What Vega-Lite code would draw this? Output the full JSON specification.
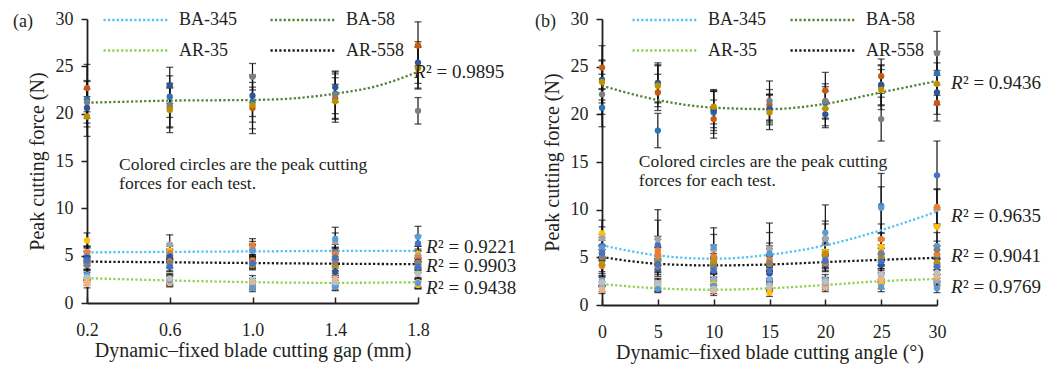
{
"$schema": "https://vega.github.io/schema/vega-lite/v6.json",
"padding": {"left": 13, "top": 10, "right": 5, "bottom": 5},
"bounds": "flush",
"spacing": 184,
"config": {
 "view": {"stroke": null},
 "font": "Liberation Serif",
 "scale": {"continuousPadding": 0},
 "axis": {"labelFont": "Liberation Serif", "titleFont": "Liberation Serif", "labelFontSize": 18, "titleFontSize": 20, "titleFontWeight": "normal", "labelColor": "#231F20", "titleColor": "#231F20", "domainColor": "#231F20", "tickColor": "#231F20", "domainWidth": 1.8, "tickWidth": 1.5, "grid": false, "labelFlush": false, "labelOverlap": false, "labelBound": false},
 "axisY": {"tickSize": 6, "labelPadding": 8, "titlePadding": 8},
 "axisX": {"tickSize": -6, "labelPadding": 24, "titlePadding": 1},
 "text": {"font": "Liberation Serif", "color": "#231F20"},
 "title": {"font": "Liberation Serif", "fontSize": 18, "fontWeight": "normal", "color": "#231F20"}
},
"datasets": {
 "dotsA": [
  {"x":0.2,"k":"BA-58/1","y":22.7,"lo":20.2,"hi":25.2},{"x":0.2,"k":"BA-58/2","y":21.5,"lo":19.5,"hi":23.5},{"x":0.2,"k":"BA-58/3","y":21.2,"lo":19.0,"hi":23.4},{"x":0.2,"k":"BA-58/4","y":20.6,"lo":18.6,"hi":22.6},{"x":0.2,"k":"BA-58/5","y":19.7,"lo":17.6,"hi":21.8},
  {"x":0.6,"k":"BA-58/1","y":20.6,"lo":18.5,"hi":22.7},{"x":0.6,"k":"BA-58/2","y":21.8,"lo":19.6,"hi":24.0},{"x":0.6,"k":"BA-58/3","y":20.9,"lo":18.6,"hi":23.2},{"x":0.6,"k":"BA-58/4","y":23.0,"lo":21.1,"hi":24.9},{"x":0.6,"k":"BA-58/5","y":20.4,"lo":18.0,"hi":22.8},
  {"x":1.0,"k":"BA-58/1","y":20.6,"lo":18.4,"hi":22.8},{"x":1.0,"k":"BA-58/2","y":21.2,"lo":19.1,"hi":23.3},{"x":1.0,"k":"BA-58/3","y":23.9,"lo":22.5,"hi":25.3},{"x":1.0,"k":"BA-58/4","y":21.9,"lo":19.7,"hi":24.1},{"x":1.0,"k":"BA-58/5","y":20.9,"lo":17.9,"hi":23.9},
  {"x":1.4,"k":"BA-58/1","y":21.6,"lo":19.4,"hi":23.8},{"x":1.4,"k":"BA-58/2","y":22.1,"lo":20.0,"hi":24.2},{"x":1.4,"k":"BA-58/3","y":22.0,"lo":19.5,"hi":24.5},{"x":1.4,"k":"BA-58/4","y":22.8,"lo":21.2,"hi":24.4},{"x":1.4,"k":"BA-58/5","y":21.3,"lo":19.1,"hi":23.1},
  {"x":1.8,"k":"BA-58/1","y":27.2,"lo":25.0,"hi":29.7},{"x":1.8,"k":"BA-58/2","y":24.9,"lo":22.7,"hi":27.1},{"x":1.8,"k":"BA-58/3","y":20.3,"lo":18.9,"hi":21.7},{"x":1.8,"k":"BA-58/4","y":25.4,"lo":23.2,"hi":27.6},{"x":1.8,"k":"BA-58/5","y":24.8,"lo":22.6,"hi":27.0},
  {"x":0.2,"k":"BA-345/1","y":6.6,"lo":5.9,"hi":7.4},{"x":0.2,"k":"BA-345/2","y":5.1,"lo":4.4,"hi":5.8},{"x":0.2,"k":"BA-345/3","y":5.4,"lo":4.8,"hi":6.0},{"x":0.2,"k":"BA-345/4","y":5.3,"lo":4.6,"hi":6.0},{"x":0.2,"k":"BA-345/5","y":4.9,"lo":4.3,"hi":5.5},
  {"x":0.2,"k":"AR-558/1","y":4.8,"lo":4.2,"hi":5.4},{"x":0.2,"k":"AR-558/2","y":4.4,"lo":3.9,"hi":4.9},{"x":0.2,"k":"AR-558/3","y":4.2,"lo":3.6,"hi":4.8},{"x":0.2,"k":"AR-558/4","y":4.0,"lo":3.5,"hi":4.5},{"x":0.2,"k":"AR-558/5","y":4.5,"lo":4.0,"hi":5.0},
  {"x":0.2,"k":"AR-35/1","y":2.9,"lo":2.4,"hi":3.4},{"x":0.2,"k":"AR-35/2","y":2.3,"lo":1.9,"hi":2.7},{"x":0.2,"k":"AR-35/3","y":2.0,"lo":1.6,"hi":2.4},{"x":0.2,"k":"AR-35/4","y":3.0,"lo":2.5,"hi":3.5},{"x":0.2,"k":"AR-35/5","y":2.7,"lo":2.2,"hi":3.2},
  {"x":0.6,"k":"BA-345/1","y":5.5,"lo":4.8,"hi":6.2},{"x":0.6,"k":"BA-345/2","y":5.1,"lo":4.5,"hi":5.7},{"x":0.6,"k":"BA-345/3","y":6.2,"lo":5.3,"hi":7.2},{"x":0.6,"k":"BA-345/4","y":5.3,"lo":4.6,"hi":6.0},{"x":0.6,"k":"BA-345/5","y":5.0,"lo":4.4,"hi":5.6},
  {"x":0.6,"k":"AR-558/1","y":4.9,"lo":4.3,"hi":5.5},{"x":0.6,"k":"AR-558/2","y":4.4,"lo":3.8,"hi":5.0},{"x":0.6,"k":"AR-558/3","y":4.0,"lo":3.4,"hi":4.6},{"x":0.6,"k":"AR-558/4","y":4.2,"lo":3.7,"hi":4.7},{"x":0.6,"k":"AR-558/5","y":3.8,"lo":3.3,"hi":4.3},
  {"x":0.6,"k":"AR-35/1","y":2.5,"lo":2.0,"hi":3.0},{"x":0.6,"k":"AR-35/2","y":2.3,"lo":1.8,"hi":2.8},{"x":0.6,"k":"AR-35/3","y":2.1,"lo":1.7,"hi":2.5},{"x":0.6,"k":"AR-35/4","y":2.4,"lo":1.9,"hi":2.9},{"x":0.6,"k":"AR-35/5","y":2.6,"lo":2.1,"hi":3.1},
  {"x":1.0,"k":"BA-345/1","y":5.5,"lo":4.8,"hi":6.2},{"x":1.0,"k":"BA-345/2","y":5.6,"lo":5.0,"hi":6.2},{"x":1.0,"k":"BA-345/3","y":5.8,"lo":5.1,"hi":6.5},{"x":1.0,"k":"BA-345/4","y":6.1,"lo":5.4,"hi":6.8},{"x":1.0,"k":"BA-345/5","y":5.5,"lo":4.9,"hi":6.1},
  {"x":1.0,"k":"AR-558/1","y":4.3,"lo":3.7,"hi":4.9},{"x":1.0,"k":"AR-558/2","y":4.5,"lo":3.9,"hi":5.1},{"x":1.0,"k":"AR-558/3","y":4.0,"lo":3.5,"hi":4.5},{"x":1.0,"k":"AR-558/4","y":4.1,"lo":3.6,"hi":4.6},{"x":1.0,"k":"AR-558/5","y":4.2,"lo":3.7,"hi":4.7},
  {"x":1.0,"k":"AR-35/1","y":1.8,"lo":1.4,"hi":2.2},{"x":1.0,"k":"AR-35/2","y":2.2,"lo":1.8,"hi":2.6},{"x":1.0,"k":"AR-35/3","y":2.0,"lo":1.6,"hi":2.4},{"x":1.0,"k":"AR-35/4","y":1.6,"lo":1.2,"hi":2.0},{"x":1.0,"k":"AR-35/5","y":2.4,"lo":1.9,"hi":2.9},
  {"x":1.4,"k":"BA-345/1","y":5.0,"lo":4.2,"hi":5.8},{"x":1.4,"k":"BA-345/2","y":5.4,"lo":4.6,"hi":6.2},{"x":1.4,"k":"BA-345/3","y":6.5,"lo":5.6,"hi":7.4},{"x":1.4,"k":"BA-345/4","y":5.2,"lo":4.5,"hi":5.9},{"x":1.4,"k":"BA-345/5","y":6.8,"lo":5.8,"hi":8.0},
  {"x":1.4,"k":"AR-558/1","y":3.3,"lo":2.7,"hi":3.9},{"x":1.4,"k":"AR-558/2","y":4.6,"lo":4.0,"hi":5.2},{"x":1.4,"k":"AR-558/3","y":4.0,"lo":3.4,"hi":4.6},{"x":1.4,"k":"AR-558/4","y":4.3,"lo":3.7,"hi":4.9},{"x":1.4,"k":"AR-558/5","y":4.8,"lo":4.2,"hi":5.4},
  {"x":1.4,"k":"AR-35/1","y":1.9,"lo":1.4,"hi":2.4},{"x":1.4,"k":"AR-35/2","y":2.4,"lo":1.9,"hi":2.9},{"x":1.4,"k":"AR-35/3","y":2.6,"lo":2.1,"hi":3.1},{"x":1.4,"k":"AR-35/4","y":1.7,"lo":1.3,"hi":2.1},{"x":1.4,"k":"AR-35/5","y":2.2,"lo":1.7,"hi":2.7},
  {"x":1.8,"k":"BA-345/1","y":5.2,"lo":4.4,"hi":6.0},{"x":1.8,"k":"BA-345/2","y":6.3,"lo":5.5,"hi":7.1},{"x":1.8,"k":"BA-345/3","y":5.0,"lo":4.3,"hi":5.7},{"x":1.8,"k":"BA-345/4","y":4.8,"lo":4.1,"hi":5.5},{"x":1.8,"k":"BA-345/5","y":7.0,"lo":6.0,"hi":8.1},
  {"x":1.8,"k":"AR-558/1","y":4.4,"lo":3.8,"hi":5.0},{"x":1.8,"k":"AR-558/2","y":4.2,"lo":3.6,"hi":4.8},{"x":1.8,"k":"AR-558/3","y":4.0,"lo":3.4,"hi":4.6},{"x":1.8,"k":"AR-558/4","y":4.1,"lo":3.5,"hi":4.7},{"x":1.8,"k":"AR-558/5","y":3.8,"lo":3.2,"hi":4.4},
  {"x":1.8,"k":"AR-35/1","y":2.0,"lo":1.5,"hi":2.5},{"x":1.8,"k":"AR-35/2","y":1.9,"lo":1.5,"hi":2.3},{"x":1.8,"k":"AR-35/3","y":2.2,"lo":1.7,"hi":2.7},{"x":1.8,"k":"AR-35/4","y":2.1,"lo":1.6,"hi":2.6},{"x":1.8,"k":"AR-35/5","y":3.1,"lo":2.5,"hi":3.7}
 ],
 "dotsB": [
  {"x":0,"k":"BA-58/1","y":24.9,"lo":22.6,"hi":27.2},{"x":0,"k":"BA-58/2","y":20.7,"lo":18.7,"hi":22.7},{"x":0,"k":"BA-58/3","y":22.1,"lo":20.0,"hi":24.2},{"x":0,"k":"BA-58/4","y":23.6,"lo":21.5,"hi":25.7},{"x":0,"k":"BA-58/5","y":23.4,"lo":21.2,"hi":25.6},
  {"x":5,"k":"BA-58/1","y":22.3,"lo":20.4,"hi":24.2},{"x":5,"k":"BA-58/2","y":18.3,"lo":16.5,"hi":20.1},{"x":5,"k":"BA-58/3","y":23.2,"lo":21.3,"hi":25.1},{"x":5,"k":"BA-58/4","y":23.3,"lo":21.2,"hi":25.4},{"x":5,"k":"BA-58/5","y":23.0,"lo":20.8,"hi":25.2},
  {"x":10,"k":"BA-58/1","y":19.5,"lo":17.5,"hi":21.5},{"x":10,"k":"BA-58/2","y":20.2,"lo":18.0,"hi":22.4},{"x":10,"k":"BA-58/3","y":20.5,"lo":18.6,"hi":22.4},{"x":10,"k":"BA-58/4","y":20.4,"lo":18.3,"hi":22.5},{"x":10,"k":"BA-58/5","y":20.8,"lo":19.0,"hi":22.6},
  {"x":15,"k":"BA-58/1","y":21.0,"lo":19.4,"hi":22.6},{"x":15,"k":"BA-58/2","y":20.6,"lo":19.1,"hi":22.1},{"x":15,"k":"BA-58/3","y":21.4,"lo":19.3,"hi":23.5},{"x":15,"k":"BA-58/4","y":20.5,"lo":18.9,"hi":22.1},{"x":15,"k":"BA-58/5","y":20.2,"lo":18.4,"hi":22.0},
  {"x":20,"k":"BA-58/1","y":22.5,"lo":20.6,"hi":24.4},{"x":20,"k":"BA-58/2","y":21.2,"lo":19.5,"hi":22.9},{"x":20,"k":"BA-58/3","y":21.4,"lo":19.6,"hi":23.2},{"x":20,"k":"BA-58/4","y":20.0,"lo":18.6,"hi":21.4},{"x":20,"k":"BA-58/5","y":20.6,"lo":18.8,"hi":22.4},
  {"x":25,"k":"BA-58/1","y":24.0,"lo":22.2,"hi":25.8},{"x":25,"k":"BA-58/2","y":23.1,"lo":21.0,"hi":25.2},{"x":25,"k":"BA-58/3","y":19.5,"lo":17.2,"hi":21.8},{"x":25,"k":"BA-58/4","y":23.0,"lo":20.9,"hi":25.1},{"x":25,"k":"BA-58/5","y":22.6,"lo":20.5,"hi":24.7},
  {"x":30,"k":"BA-58/1","y":21.2,"lo":19.3,"hi":23.1},{"x":30,"k":"BA-58/2","y":24.3,"lo":22.0,"hi":26.6},{"x":30,"k":"BA-58/3","y":26.4,"lo":24.1,"hi":28.7},{"x":30,"k":"BA-58/4","y":22.3,"lo":20.0,"hi":24.6},{"x":30,"k":"BA-58/5","y":23.2,"lo":21.0,"hi":25.4},
  {"x":0,"k":"BA-345/1","y":7.5,"lo":6.2,"hi":8.9},{"x":0,"k":"BA-345/2","y":6.2,"lo":5.0,"hi":7.4},{"x":0,"k":"BA-345/3","y":7.0,"lo":5.8,"hi":8.2},{"x":0,"k":"BA-345/4","y":5.8,"lo":4.8,"hi":6.8},{"x":0,"k":"BA-345/5","y":6.0,"lo":4.9,"hi":7.1},
  {"x":0,"k":"AR-558/1","y":5.4,"lo":4.6,"hi":6.2},{"x":0,"k":"AR-558/2","y":4.1,"lo":3.3,"hi":4.9},{"x":0,"k":"AR-558/3","y":4.3,"lo":3.5,"hi":5.1},{"x":0,"k":"AR-558/4","y":5.0,"lo":4.2,"hi":5.8},{"x":0,"k":"AR-558/5","y":5.5,"lo":4.7,"hi":6.3},
  {"x":0,"k":"AR-35/1","y":1.9,"lo":1.4,"hi":2.4},{"x":0,"k":"AR-35/2","y":2.5,"lo":2.0,"hi":3.0},{"x":0,"k":"AR-35/3","y":1.6,"lo":1.2,"hi":2.0},{"x":0,"k":"AR-35/4","y":2.6,"lo":2.1,"hi":3.1},{"x":0,"k":"AR-35/5","y":2.4,"lo":1.9,"hi":2.9},
  {"x":5,"k":"BA-345/1","y":5.5,"lo":4.1,"hi":6.9},{"x":5,"k":"BA-345/2","y":6.3,"lo":4.7,"hi":8.9},{"x":5,"k":"BA-345/3","y":6.9,"lo":4.9,"hi":10.0},{"x":5,"k":"BA-345/4","y":5.7,"lo":4.2,"hi":7.2},{"x":5,"k":"BA-345/5","y":4.7,"lo":3.4,"hi":6.0},
  {"x":5,"k":"AR-558/1","y":3.8,"lo":3.0,"hi":4.6},{"x":5,"k":"AR-558/2","y":5.2,"lo":4.3,"hi":6.1},{"x":5,"k":"AR-558/3","y":4.5,"lo":3.7,"hi":5.3},{"x":5,"k":"AR-558/4","y":4.0,"lo":3.2,"hi":4.8},{"x":5,"k":"AR-558/5","y":4.3,"lo":3.5,"hi":5.1},
  {"x":5,"k":"AR-35/1","y":2.2,"lo":1.7,"hi":2.7},{"x":5,"k":"AR-35/2","y":2.0,"lo":1.5,"hi":2.5},{"x":5,"k":"AR-35/3","y":1.85,"lo":1.4,"hi":2.3},{"x":5,"k":"AR-35/4","y":1.7,"lo":1.3,"hi":2.1},{"x":5,"k":"AR-35/5","y":2.3,"lo":1.8,"hi":2.8},
  {"x":10,"k":"BA-345/1","y":3.9,"lo":2.9,"hi":4.9},{"x":10,"k":"BA-345/2","y":4.6,"lo":3.4,"hi":5.8},{"x":10,"k":"BA-345/3","y":5.8,"lo":4.2,"hi":7.4},{"x":10,"k":"BA-345/4","y":5.1,"lo":3.9,"hi":6.3},{"x":10,"k":"BA-345/5","y":6.1,"lo":4.4,"hi":8.1},
  {"x":10,"k":"AR-558/1","y":4.15,"lo":3.3,"hi":5.0},{"x":10,"k":"AR-558/2","y":4.3,"lo":3.5,"hi":5.1},{"x":10,"k":"AR-558/3","y":4.6,"lo":3.8,"hi":5.4},{"x":10,"k":"AR-558/4","y":4.0,"lo":3.2,"hi":4.8},{"x":10,"k":"AR-558/5","y":3.6,"lo":2.9,"hi":4.3},
  {"x":10,"k":"AR-35/1","y":2.7,"lo":2.1,"hi":3.3},{"x":10,"k":"AR-35/2","y":2.2,"lo":1.7,"hi":2.7},{"x":10,"k":"AR-35/3","y":1.5,"lo":1.0,"hi":2.0},{"x":10,"k":"AR-35/4","y":2.0,"lo":1.5,"hi":2.5},{"x":10,"k":"AR-35/5","y":1.7,"lo":1.2,"hi":2.2},
  {"x":15,"k":"BA-345/1","y":4.9,"lo":3.6,"hi":6.2},{"x":15,"k":"BA-345/2","y":5.2,"lo":3.9,"hi":6.5},{"x":15,"k":"BA-345/3","y":5.9,"lo":4.2,"hi":7.6},{"x":15,"k":"BA-345/4","y":4.7,"lo":3.5,"hi":5.9},{"x":15,"k":"BA-345/5","y":5.4,"lo":4.0,"hi":8.6},
  {"x":15,"k":"AR-558/1","y":3.3,"lo":2.5,"hi":4.1},{"x":15,"k":"AR-558/2","y":4.5,"lo":3.7,"hi":5.3},{"x":15,"k":"AR-558/3","y":4.3,"lo":3.5,"hi":5.1},{"x":15,"k":"AR-558/4","y":4.4,"lo":3.6,"hi":5.2},{"x":15,"k":"AR-558/5","y":3.6,"lo":2.8,"hi":4.4},
  {"x":15,"k":"AR-35/1","y":2.7,"lo":2.1,"hi":3.3},{"x":15,"k":"AR-35/2","y":1.3,"lo":0.9,"hi":1.7},{"x":15,"k":"AR-35/3","y":1.85,"lo":1.4,"hi":2.3},{"x":15,"k":"AR-35/4","y":2.2,"lo":1.7,"hi":2.7},{"x":15,"k":"AR-35/5","y":2.0,"lo":1.5,"hi":2.5},
  {"x":20,"k":"BA-345/1","y":5.6,"lo":4.2,"hi":7.0},{"x":20,"k":"BA-345/2","y":6.9,"lo":5.3,"hi":8.5},{"x":20,"k":"BA-345/3","y":7.0,"lo":5.2,"hi":8.8},{"x":20,"k":"BA-345/4","y":5.2,"lo":3.9,"hi":6.5},{"x":20,"k":"BA-345/5","y":7.6,"lo":5.8,"hi":10.5},
  {"x":20,"k":"AR-558/1","y":4.3,"lo":3.5,"hi":5.1},{"x":20,"k":"AR-558/2","y":4.4,"lo":3.6,"hi":5.2},{"x":20,"k":"AR-558/3","y":5.4,"lo":4.5,"hi":6.3},{"x":20,"k":"AR-558/4","y":4.8,"lo":4.0,"hi":5.6},{"x":20,"k":"AR-558/5","y":4.6,"lo":3.8,"hi":5.4},
  {"x":20,"k":"AR-35/1","y":2.65,"lo":2.1,"hi":3.2},{"x":20,"k":"AR-35/2","y":2.1,"lo":1.6,"hi":2.6},{"x":20,"k":"AR-35/3","y":1.85,"lo":1.4,"hi":2.3},{"x":20,"k":"AR-35/4","y":2.3,"lo":1.8,"hi":2.8},{"x":20,"k":"AR-35/5","y":2.4,"lo":1.9,"hi":2.9},
  {"x":25,"k":"BA-345/1","y":6.1,"lo":4.7,"hi":7.5},{"x":25,"k":"BA-345/2","y":10.4,"lo":7.0,"hi":13.8},{"x":25,"k":"BA-345/3","y":5.5,"lo":4.2,"hi":6.8},{"x":25,"k":"BA-345/4","y":6.9,"lo":5.3,"hi":8.5},{"x":25,"k":"BA-345/5","y":10.2,"lo":7.6,"hi":12.4},
  {"x":25,"k":"AR-558/1","y":4.2,"lo":3.4,"hi":5.0},{"x":25,"k":"AR-558/2","y":5.1,"lo":4.2,"hi":6.0},{"x":25,"k":"AR-558/3","y":5.0,"lo":4.1,"hi":5.9},{"x":25,"k":"AR-558/4","y":5.4,"lo":4.5,"hi":6.3},{"x":25,"k":"AR-558/5","y":4.6,"lo":3.8,"hi":5.4},
  {"x":25,"k":"AR-35/1","y":3.0,"lo":2.4,"hi":3.6},{"x":25,"k":"AR-35/2","y":2.2,"lo":1.7,"hi":2.7},{"x":25,"k":"AR-35/3","y":2.7,"lo":2.2,"hi":3.2},{"x":25,"k":"AR-35/4","y":1.9,"lo":1.4,"hi":2.4},{"x":25,"k":"AR-35/5","y":3.2,"lo":2.6,"hi":3.8},
  {"x":30,"k":"BA-345/1","y":8.2,"lo":6.2,"hi":10.2},{"x":30,"k":"BA-345/2","y":13.6,"lo":10.0,"hi":17.2},{"x":30,"k":"BA-345/3","y":10.1,"lo":8.3,"hi":12.1},{"x":30,"k":"BA-345/4","y":10.3,"lo":8.5,"hi":12.2},{"x":30,"k":"BA-345/5","y":6.2,"lo":4.8,"hi":7.6},
  {"x":30,"k":"AR-558/1","y":5.0,"lo":4.2,"hi":5.8},{"x":30,"k":"AR-558/2","y":5.3,"lo":4.4,"hi":6.2},{"x":30,"k":"AR-558/3","y":4.5,"lo":3.7,"hi":5.3},{"x":30,"k":"AR-558/4","y":5.8,"lo":4.9,"hi":6.7},{"x":30,"k":"AR-558/5","y":4.0,"lo":3.2,"hi":4.8},
  {"x":30,"k":"AR-35/1","y":2.6,"lo":2.0,"hi":3.2},{"x":30,"k":"AR-35/2","y":3.0,"lo":2.4,"hi":3.6},{"x":30,"k":"AR-35/3","y":3.1,"lo":2.5,"hi":3.7},{"x":30,"k":"AR-35/4","y":1.75,"lo":1.3,"hi":2.2},{"x":30,"k":"AR-35/5","y":3.4,"lo":2.8,"hi":4.0}
 ],
 "trendA": [
  {"m":"BA-345","x":0.2,"y":5.35},{"m":"BA-345","x":0.6,"y":5.4},{"m":"BA-345","x":1.0,"y":5.45},{"m":"BA-345","x":1.4,"y":5.5},{"m":"BA-345","x":1.8,"y":5.5},
  {"m":"BA-58","x":0.2,"y":21.16},{"m":"BA-58","x":0.4,"y":21.27},{"m":"BA-58","x":0.6,"y":21.38},{"m":"BA-58","x":0.8,"y":21.41},{"m":"BA-58","x":1.0,"y":21.45},{"m":"BA-58","x":1.2,"y":21.62},{"m":"BA-58","x":1.4,"y":22.11},{"m":"BA-58","x":1.6,"y":22.91},{"m":"BA-58","x":1.8,"y":24.42},
  {"m":"AR-35","x":0.2,"y":2.62},{"m":"AR-35","x":0.6,"y":2.38},{"m":"AR-35","x":1.0,"y":2.2},{"m":"AR-35","x":1.4,"y":2.13},{"m":"AR-35","x":1.8,"y":2.2},
  {"m":"AR-558","x":0.2,"y":4.37},{"m":"AR-558","x":0.6,"y":4.3},{"m":"AR-558","x":1.0,"y":4.22},{"m":"AR-558","x":1.4,"y":4.15},{"m":"AR-558","x":1.8,"y":4.1}
 ],
 "trendB": [
  {"m":"BA-345","x":0,"y":6.26},{"m":"BA-345","x":5,"y":5.2},{"m":"BA-345","x":10,"y":4.85},{"m":"BA-345","x":15,"y":5.27},{"m":"BA-345","x":20,"y":6.26},{"m":"BA-345","x":25,"y":7.85},{"m":"BA-345","x":30,"y":9.8},
  {"m":"BA-58","x":0,"y":23.0},{"m":"BA-58","x":5,"y":21.5},{"m":"BA-58","x":10,"y":20.7},{"m":"BA-58","x":15,"y":20.55},{"m":"BA-58","x":20,"y":21.1},{"m":"BA-58","x":25,"y":22.3},{"m":"BA-58","x":30,"y":23.5},
  {"m":"AR-35","x":0,"y":2.2},{"m":"AR-35","x":5,"y":1.75},{"m":"AR-35","x":10,"y":1.6},{"m":"AR-35","x":15,"y":1.75},{"m":"AR-35","x":20,"y":2.1},{"m":"AR-35","x":25,"y":2.5},{"m":"AR-35","x":30,"y":2.73},
  {"m":"AR-558","x":0,"y":5.03},{"m":"AR-558","x":5,"y":4.32},{"m":"AR-558","x":10,"y":4.15},{"m":"AR-558","x":15,"y":4.25},{"m":"AR-558","x":20,"y":4.5},{"m":"AR-558","x":25,"y":4.74},{"m":"AR-558","x":30,"y":4.95}
 ],
 "r2A": [
  {"x":1.781,"y":24.45,"t":"² = 0.9895"},{"x":1.839,"y":5.9,"t":"² = 0.9221"},{"x":1.839,"y":3.9,"t":"² = 0.9903"},{"x":1.839,"y":1.6,"t":"² = 0.9438"}
 ],
 "r2B": [
  {"x":31.25,"y":23.3,"t":"² = 0.9436"},{"x":31.25,"y":9.37,"t":"² = 0.9635"},{"x":31.25,"y":5.1,"t":"² = 0.9041"},{"x":31.25,"y":1.85,"t":"² = 0.9769"}
 ],
 "noteA": [
  {"x":0.355,"y":14.6,"t":"Colored circles are the peak cutting"},{"x":0.355,"y":12.6,"t":"forces for each test."}
 ],
 "noteB": [
  {"x":3.3,"y":15.0,"t":"Colored circles are the peak cutting"},{"x":3.3,"y":13.0,"t":"forces for each test."}
 ]
},
"hconcat": [
 {
  "width": 331, "height": 284,
  "title": {"text": "(a)", "anchor": "start", "frame": "group", "dx": -74, "dy": 25},
  "layer": [
   {"data": {"name": "dotsA"}, "mark": {"type": "rule", "color": "#111", "strokeWidth": 1.2},
    "encoding": {
     "x": {"field": "x", "type": "quantitative", "scale": {"domain": [0.2, 1.8], "nice": false, "zero": false, "padding": 0}, "axis": {"values": [0.2, 0.6, 1.0, 1.4, 1.8], "format": ".1f", "title": "Dynamic–fixed blade cutting gap (mm)"}},
     "y": {"field": "lo", "type": "quantitative", "scale": {"domain": [0, 30], "nice": false, "padding": 0}, "axis": {"values": [0, 5, 10, 15, 20, 25, 30], "title": "Peak cutting force (N)"}},
     "y2": {"field": "hi"}}},
   {"data": {"name": "dotsA"}, "mark": {"type": "tick", "orient": "horizontal", "size": 7, "thickness": 1.3, "color": "#111"},
    "encoding": {"x": {"field": "x", "type": "quantitative"}, "y": {"field": "lo", "type": "quantitative"}}},
   {"data": {"name": "dotsA"}, "mark": {"type": "tick", "orient": "horizontal", "size": 7, "thickness": 1.3, "color": "#111"},
    "encoding": {"x": {"field": "x", "type": "quantitative"}, "y": {"field": "hi", "type": "quantitative"}}},
   {"data": {"name": "trendA"}, "mark": {"type": "line", "interpolate": "monotone", "strokeDash": [2.2, 2.2], "strokeWidth": 2.3},
    "encoding": {"x": {"field": "x", "type": "quantitative"}, "y": {"field": "y", "type": "quantitative"},
     "stroke": {"field": "m", "type": "nominal", "scale": {"domain": ["BA-345", "BA-58", "AR-35", "AR-558"], "range": ["#4FC4F2", "#548235", "#8FD150", "#1A1A1A"]},
      "legend": {"title": null, "orient": "none", "legendX": 15, "legendY": -9, "columns": 2, "direction": "horizontal", "symbolType": "stroke", "symbolSize": 4225, "symbolStrokeWidth": 2.5, "symbolDash": [2.2, 2.2], "clipHeight": 20, "rowPadding": 10.5, "columnPadding": 32, "labelFontSize": 18, "labelOffset": 9, "labelFont": "Liberation Serif", "labelColor": "#231F20"}}}},
   {"data": {"name": "dotsA"}, "mark": {"type": "circle", "size": 40, "opacity": 1},
    "encoding": {"x": {"field": "x", "type": "quantitative"}, "y": {"field": "y", "type": "quantitative"},
     "fill": {"field": "k", "type": "nominal", "legend": null, "scale": {
      "domain": ["BA-58/1","BA-58/2","BA-58/3","BA-58/4","BA-58/5","BA-345/1","BA-345/2","BA-345/3","BA-345/4","BA-345/5","AR-558/1","AR-558/2","AR-558/3","AR-558/4","AR-558/5","AR-35/1","AR-35/2","AR-35/3","AR-35/4","AR-35/5"],
      "range": ["#C55A11","#2E75B6","#7F7F7F","#2F5597","#BF9000","#FFC000","#4472C4","#A5A5A5","#ED7D31","#5B9BD5","#2F5597","#ED7D31","#BF9000","#7F7F7F","#4472C4","#8FAADC","#FFC000","#F4B183","#5B9BD5","#BFBFBF"]}}}},
   {"data": {"name": "noteA"}, "mark": {"type": "text", "align": "left", "baseline": "middle", "fontSize": 17.5},
    "encoding": {"x": {"field": "x", "type": "quantitative"}, "y": {"field": "y", "type": "quantitative"}, "text": {"field": "t"}}},
   {"data": {"name": "r2A"}, "mark": {"type": "text", "text": "R", "fontStyle": "italic", "align": "left", "baseline": "middle", "fontSize": 19},
    "encoding": {"x": {"field": "x", "type": "quantitative"}, "y": {"field": "y", "type": "quantitative"}}},
   {"data": {"name": "r2A"}, "mark": {"type": "text", "align": "left", "baseline": "middle", "fontSize": 19, "dx": 12},
    "encoding": {"x": {"field": "x", "type": "quantitative"}, "y": {"field": "y", "type": "quantitative"}, "text": {"field": "t"}}}
  ]
 },
 {
  "width": 335, "height": 286,
  "title": {"text": "(b)", "anchor": "start", "frame": "group", "dx": -67, "dy": 25},
  "layer": [
   {"data": {"name": "dotsB"}, "mark": {"type": "rule", "color": "#111", "strokeWidth": 1.2},
    "encoding": {
     "x": {"field": "x", "type": "quantitative", "scale": {"domain": [0, 30], "nice": false, "padding": 0}, "axis": {"values": [0, 5, 10, 15, 20, 25, 30], "title": "Dynamic–fixed blade cutting angle (°)"}},
     "y": {"field": "lo", "type": "quantitative", "scale": {"domain": [0, 30], "nice": false, "padding": 0}, "axis": {"values": [0, 5, 10, 15, 20, 25, 30], "title": "Peak cutting force (N)"}},
     "y2": {"field": "hi"}}},
   {"data": {"name": "dotsB"}, "mark": {"type": "tick", "orient": "horizontal", "size": 7, "thickness": 1.3, "color": "#111"},
    "encoding": {"x": {"field": "x", "type": "quantitative"}, "y": {"field": "lo", "type": "quantitative"}}},
   {"data": {"name": "dotsB"}, "mark": {"type": "tick", "orient": "horizontal", "size": 7, "thickness": 1.3, "color": "#111"},
    "encoding": {"x": {"field": "x", "type": "quantitative"}, "y": {"field": "hi", "type": "quantitative"}}},
   {"data": {"name": "trendB"}, "mark": {"type": "line", "interpolate": "monotone", "strokeDash": [2.2, 2.2], "strokeWidth": 2.3},
    "encoding": {"x": {"field": "x", "type": "quantitative"}, "y": {"field": "y", "type": "quantitative"},
     "stroke": {"field": "m", "type": "nominal", "scale": {"domain": ["BA-345", "BA-58", "AR-35", "AR-558"], "range": ["#4FC4F2", "#548235", "#8FD150", "#1A1A1A"]},
      "legend": {"title": null, "orient": "none", "legendX": 29, "legendY": -9, "columns": 2, "direction": "horizontal", "symbolType": "stroke", "symbolSize": 4225, "symbolStrokeWidth": 2.5, "symbolDash": [2.2, 2.2], "clipHeight": 20, "rowPadding": 10.5, "columnPadding": 23, "labelFontSize": 18, "labelOffset": 9, "labelFont": "Liberation Serif", "labelColor": "#231F20"}}}},
   {"data": {"name": "dotsB"}, "mark": {"type": "circle", "size": 40, "opacity": 1},
    "encoding": {"x": {"field": "x", "type": "quantitative"}, "y": {"field": "y", "type": "quantitative"},
     "fill": {"field": "k", "type": "nominal", "legend": null, "scale": {
      "domain": ["BA-58/1","BA-58/2","BA-58/3","BA-58/4","BA-58/5","BA-345/1","BA-345/2","BA-345/3","BA-345/4","BA-345/5","AR-558/1","AR-558/2","AR-558/3","AR-558/4","AR-558/5","AR-35/1","AR-35/2","AR-35/3","AR-35/4","AR-35/5"],
      "range": ["#C55A11","#2E75B6","#7F7F7F","#2F5597","#BF9000","#FFC000","#4472C4","#A5A5A5","#ED7D31","#5B9BD5","#2F5597","#ED7D31","#BF9000","#7F7F7F","#4472C4","#8FAADC","#FFC000","#F4B183","#5B9BD5","#BFBFBF"]}}}},
   {"data": {"name": "noteB"}, "mark": {"type": "text", "align": "left", "baseline": "middle", "fontSize": 17.5},
    "encoding": {"x": {"field": "x", "type": "quantitative"}, "y": {"field": "y", "type": "quantitative"}, "text": {"field": "t"}}},
   {"data": {"name": "r2B"}, "mark": {"type": "text", "text": "R", "fontStyle": "italic", "align": "left", "baseline": "middle", "fontSize": 19},
    "encoding": {"x": {"field": "x", "type": "quantitative"}, "y": {"field": "y", "type": "quantitative"}}},
   {"data": {"name": "r2B"}, "mark": {"type": "text", "align": "left", "baseline": "middle", "fontSize": 19, "dx": 12},
    "encoding": {"x": {"field": "x", "type": "quantitative"}, "y": {"field": "y", "type": "quantitative"}, "text": {"field": "t"}}}
  ]
 }
],
"resolve": {"scale": {"stroke": "independent", "x": "independent", "y": "independent"}, "legend": {"stroke": "independent"}}
}
